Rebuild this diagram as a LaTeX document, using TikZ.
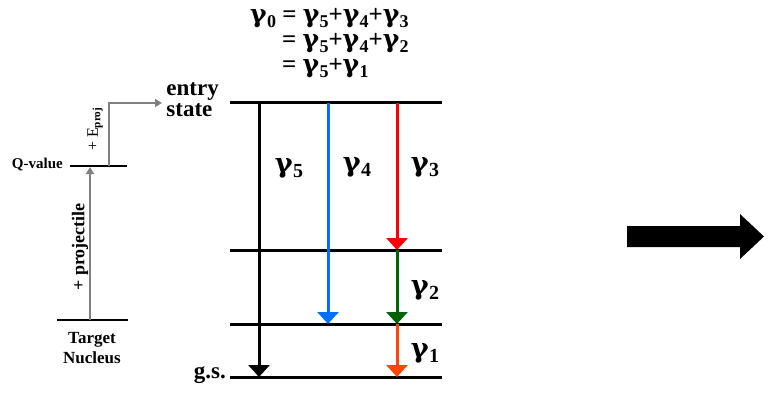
\documentclass[tikz,border=0pt]{standalone}
\usepackage{fontspec}
\setmainfont{Liberation Serif}
\newfontfamily\gfont{DejaVu Serif}
\usetikzlibrary{arrows.meta}
\definecolor{gblue}{RGB}{0,112,255}
\definecolor{gred}{RGB}{255,0,0}
\definecolor{ggreen}{RGB}{0,100,0}
\definecolor{gorange}{RGB}{255,70,0}
\definecolor{ggray}{RGB}{128,128,128}
\newcommand{\gsub}[2]{{\gfont\bfseries γ}\kern0.3pt\raisebox{-0.45ex}{\fontsize{#2}{#2}\selectfont\bfseries #1}}
\tikzset{
  level/.style={line width=3pt},
  gam/.style={line width=3pt,-{Triangle[width=21pt,length=12pt]}},
  feed/.style={ggray,line width=2pt,-{Triangle[width=8pt,length=7pt]}},
  lbl/.style={font=\bfseries\fontsize{23}{21}\selectfont,inner sep=0pt},
  glbl/.style={font=\bfseries\fontsize{27}{27}\selectfont,inner sep=0pt},
  eq/.style={font=\bfseries\fontsize{25}{25}\selectfont,inner sep=0pt,anchor=west}
}
\begin{document}
\begin{tikzpicture}[x=1pt,y=-1pt]
\useasboundingbox[fill=white] (0,0) rectangle (769,396);
% levels
\coordinate (eL) at (230,103); \coordinate (eR) at (442,103);
\coordinate (aL) at (230,250); \coordinate (aR) at (442,250);
\coordinate (bL) at (230,324); \coordinate (bR) at (442,324);
\coordinate (gL) at (230,377); \coordinate (gR) at (442,377);
\draw[level] (eL) -- (eR);
\draw[level] (aL) -- (aR);
\draw[level] (bL) -- (bR);
\draw[level] (gL) -- (gR);
% transitions
\coordinate (e5) at (259,103); \coordinate (g5) at (259,377);
\coordinate (e4) at (328,103); \coordinate (b4) at (328,324);
\coordinate (e3) at (397,103); \coordinate (a3) at (397,250);
\coordinate (b2) at (397,324); \coordinate (g1) at (397,377);
\draw[gam,black] (e5) -- (g5);
\draw[gam,gblue] (e4) -- (b4);
\draw[gam,gred] (e3) -- (a3);
\draw[gam,ggreen] (a3) -- (b2);
\draw[gam,gorange] (b2) -- (g1);
% gamma labels
\node[glbl] (l5) at (289,168) {\gsub{5}{20}};
\node[glbl] (l4) at (357,167) {\gsub{4}{20}};
\node[glbl] (l3) at (425,167) {\gsub{3}{20}};
\node[glbl] (l2) at (425,290) {\gsub{2}{20}};
\node[glbl] (l1) at (425,353) {\gsub{1}{20}};
% equation
\node[eq] (q1) at (250,18) {\gsub{0}{18} = \gsub{5}{18}+\gsub{4}{18}+\gsub{3}{18}};
\node[eq] (q2) at (282,43) {= \gsub{5}{18}+\gsub{4}{18}+\gsub{2}{18}};
\node[eq] (q3) at (282,68) {= \gsub{5}{18}+\gsub{1}{18}};
% level labels
\node[lbl,align=left,anchor=east] (entry) at (219,100) {entry\\state};
\node[lbl,anchor=east] (gs) at (226,375) {g.s.};
% left side
\coordinate (qL) at (70,166); \coordinate (qR) at (127,166);
\coordinate (tL) at (57,320); \coordinate (tR) at (128,320);
\draw[line width=2.5pt] (qL) -- (qR);
\draw[line width=2.5pt] (tL) -- (tR);
\node[font=\bfseries\fontsize{15}{15}\selectfont,inner sep=0pt,anchor=east] (qv) at (63,165) {Q-value};
\node[font=\bfseries\fontsize{17}{20}\selectfont,inner sep=0pt,align=center] (tn) at (92,348) {Target\\Nucleus};
\coordinate (tA) at (90,320); \coordinate (qA) at (90,167);
\draw[feed] (tA) -- (qA);
\coordinate (qB) at (109,166); \coordinate (eA) at (162,103);
\draw[feed] (qB) |- (eA);
\node[font=\bfseries\fontsize{18}{18}\selectfont,inner sep=0pt,rotate=90] (proj) at (80,247) {+ projectile};
\node[font=\fontsize{16}{16}\selectfont,inner sep=0pt,rotate=90] (ep) at (95,129) {+ E\textsubscript{\bfseries proj}};
% big arrow
\fill[black] (627,226) -- (740,226) -- (740,214) -- (764,236.5) -- (740,259) -- (740,247) -- (627,247) -- cycle;
\end{tikzpicture}
\end{document}
